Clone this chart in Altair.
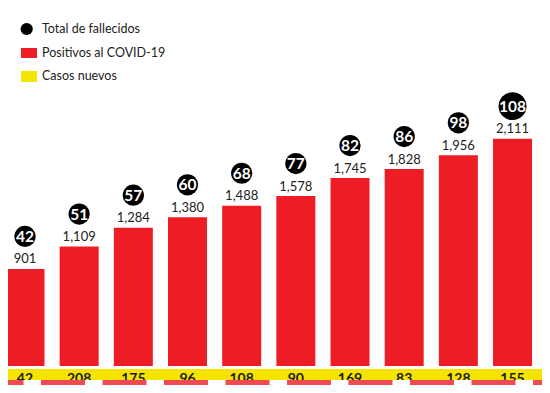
import altair as alt
import pandas as pd

# --- data ---
dia = list(range(10))
fallecidos = [42, 51, 57, 60, 68, 77, 82, 86, 98, 108]
positivos = [901, 1109, 1284, 1380, 1488, 1578, 1745, 1828, 1956, 2111]
nuevos = [42, 208, 175, 96, 108, 90, 169, 83, 128, 155]
legend_labels = ["Total de fallecidos", "Positivos al COVID-19", "Casos nuevos"]

RED = "#ee1c25"
YELLOW = "#f5e400"
FONT = "Lato"

df = pd.DataFrame({"dia": dia, "fallecidos": fallecidos,
                   "positivos": positivos, "nuevos": nuevos})
one = pd.DataFrame({"k": [0]})

W, H = 534, 358
xs = alt.Scale(domain=[-0.3138, 9.544], nice=False, zero=False, padding=0)
ys = alt.Scale(domain=[0, 3324], nice=False, padding=0)
X = alt.X("dia:Q", scale=xs, axis=None)
Y = alt.Y("positivos:Q", scale=ys, axis=None)

base = alt.Chart(df)

bars = base.mark_bar(width=39, color=RED).encode(x=X, y=Y)

vals = base.mark_text(dy=-9.5, baseline="middle", fontSize=13, font=FONT,
                      color="#222222").encode(
    x=X, y=Y, text=alt.Text("positivos:Q", format=","))

circles = base.mark_circle(color="#000000", opacity=1).encode(
    x=X, y=Y, yOffset=alt.value(-32.5),
    size=alt.condition("datum.fallecidos >= 100", alt.value(780), alt.value(450)))

circ_txt = base.mark_text(dy=-32, baseline="middle", fontSize=15.5, font=FONT,
                          fontWeight="bold", color="white").encode(
    x=X, y=Y, text="fallecidos:Q")

# bottom band (casos nuevos)
yband = alt.Chart(one).mark_rect(color=YELLOW).encode(
    x=alt.value(0), x2=alt.value(W), y=alt.value(361), y2=alt.value(H + 19))

new_txt = base.mark_text(baseline="alphabetic", fontSize=14, font=FONT,
                         fontWeight="bold", color="#1a1a1a").encode(
    x=X, y=alt.value(374.5), text="nuevos:Q")

wband = alt.Chart(one).mark_rect(color="white").encode(
    x=alt.value(0), x2=alt.value(W), y=alt.value(372), y2=alt.value(H + 19))

strips = base.mark_bar(width=44, color=RED, opacity=0.8).encode(
    x=alt.X("dia:Q", scale=alt.Scale(domain=[0.1057, 8.789], nice=False,
                                     zero=False, padding=0), axis=None),
    y=alt.value(372), y2=alt.value(379))

# legend
leg_dot = alt.Chart(one).mark_circle(color="#000000", opacity=1, size=150).encode(
    x=alt.value(18.7), y=alt.value(21))
leg_red = alt.Chart(one).mark_rect(color=RED).encode(
    x=alt.value(13), x2=alt.value(29), y=alt.value(40), y2=alt.value(50))
leg_yel = alt.Chart(one).mark_rect(color=YELLOW).encode(
    x=alt.value(13), x2=alt.value(29), y=alt.value(63), y2=alt.value(74))
leg_txt = []
for lab, yy in zip(legend_labels, [21, 45, 68]):
    leg_txt.append(alt.Chart(one).mark_text(
        align="left", baseline="middle", fontSize=12.5, font=FONT, color="#222222",
        text=lab).encode(x=alt.value(34), y=alt.value(yy)))

chart = alt.layer(
    bars, vals, circles, circ_txt, yband, new_txt, wband, strips,
    leg_dot, leg_red, leg_yel, *leg_txt
).resolve_scale(x="independent").properties(
    width=W, height=H,
    autosize=alt.AutoSizeParams(type="none"),
    padding={"left": 0, "top": 0, "right": 0, "bottom": 19},
).configure_view(stroke="transparent", strokeWidth=0)

chart.save("out.html", embed_options={"renderer": "svg", "actions": False})
